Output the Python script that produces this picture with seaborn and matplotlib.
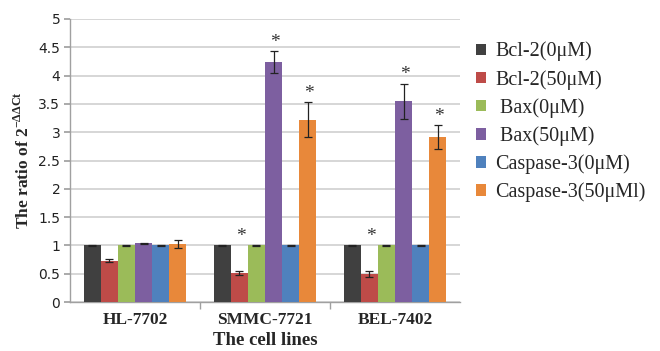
import numpy as np
import pandas as pd
import matplotlib
matplotlib.use("Agg")
import matplotlib.pyplot as plt
import seaborn as sns

cell_lines = ["HL-7702", "SMMC-7721", "BEL-7402"]
series = ["Bcl-2(0μM)", "Bcl-2(50μM)", " Bax(0μM)", " Bax(50μM)", "Caspase-3(0μM)", "Caspase-3(50μMl)"]
bcl2_0 = [1.00, 1.00, 1.00]
bcl2_50 = [0.73, 0.51, 0.50]
bax_0 = [1.00, 1.00, 1.00]
bax_50 = [1.04, 4.24, 3.55]
casp_0 = [1.00, 1.00, 1.00]
casp_50 = [1.02, 3.22, 2.91]
err_bcl2_0 = [0.01, 0.01, 0.01]
err_bcl2_50 = [0.03, 0.04, 0.05]
err_bax_0 = [0.01, 0.01, 0.01]
err_bax_50 = [0.01, 0.19, 0.31]
err_casp_0 = [0.01, 0.01, 0.01]
err_casp_50 = [0.07, 0.31, 0.21]
significant = [
    [False, False, False],
    [False, True, True],
    [False, False, False],
    [False, True, True],
    [False, False, False],
    [False, True, True],
]
colors = ["#404040", "#BE4B48", "#9BBB59", "#7D5FA0", "#4F81BD", "#E8883A"]

values = [bcl2_0, bcl2_50, bax_0, bax_50, casp_0, casp_50]
errors = [err_bcl2_0, err_bcl2_50, err_bax_0, err_bax_50, err_casp_0, err_casp_50]

rows = []
for s, vals in zip(series, values):
    for c, v in zip(cell_lines, vals):
        rows.append({"cell": c, "series": s, "value": v})
df = pd.DataFrame(rows)

sns.set_theme(style="white")
plt.rcParams["font.family"] = ["Liberation Serif", "DejaVu Serif"]
plt.rcParams["mathtext.fontset"] = "custom"
plt.rcParams["mathtext.rm"] = "Liberation Serif"

fig = plt.figure(figsize=(6.6, 3.51), dpi=100)
ax = fig.add_axes([70/660, 1 - 302/351, 390/660, 283/351])

sns.barplot(data=df, x="cell", y="value", hue="series", palette=colors,
            order=cell_lines, hue_order=series, width=0.79, errorbar=None,
            saturation=1, linewidth=0, ax=ax, zorder=3)

bar_containers = list(ax.containers)
for i, cont in enumerate(bar_containers):
    for j, patch in enumerate(cont.patches):
        xc = patch.get_x() + patch.get_width() / 2
        h = patch.get_height()
        ax.errorbar(xc, h, yerr=errors[i][j], color="#222222", capsize=3,
                    elinewidth=0.9, capthick=0.9, zorder=4)
        if significant[i][j]:
            top = max(h + errors[i][j], 1.0)
            ax.text(xc + 0.01, top + 0.01, "*", ha="center", va="bottom",
                    fontsize=14, color="#333333", zorder=5)

ax.set_ylim(0, 5)
ax.set_xlim(-0.5, 2.5)
ax.set_yticks(np.arange(0, 5.01, 0.5))
ax.set_yticklabels(["0", "0.5", "1", "1.5", "2", "2.5", "3", "3.5", "4", "4.5", "5"],
                   family="DejaVu Sans", fontsize=10, color="#222222")
ax.yaxis.grid(True, color="#D0D0D0", linewidth=1.2, zorder=0)
ax.set_axisbelow(True)
for sp in ["top", "right"]:
    ax.spines[sp].set_visible(False)
for sp in ["left", "bottom"]:
    ax.spines[sp].set_color("#A0A0A0")
    ax.spines[sp].set_linewidth(1.0)

ax.set_xticks([0, 1, 2])
ax.set_xticklabels(cell_lines, fontweight="bold", fontsize=12.5)
ax.tick_params(axis="x", length=0, pad=7)
ax.set_xticks([0.5, 1.5], minor=True)
ax.tick_params(axis="x", which="minor", length=5, color="#A0A0A0", direction="out", bottom=True)
ax.tick_params(axis="y", length=4, color="#A0A0A0", direction="out", pad=3, left=True)

ax.set_xlabel("The cell lines", fontweight="bold", fontsize=13.5, labelpad=3)
ax.set_ylabel(r"The ratio of 2$^{\mathregular{-ΔΔCt}}$", fontweight="bold", fontsize=12.5, labelpad=4)

handles, labels = [], []
for cont, lab in zip(bar_containers, series):
    handles.append(cont.patches[0])
    labels.append(lab)
leg = ax.legend(handles, labels, loc="center left", bbox_to_anchor=(1.02, 0.636),
                frameon=False, fontsize=14.5, handlelength=0.5, handleheight=0.5,
                labelspacing=0.42, handletextpad=0.45, borderaxespad=0)

fig.savefig("out.png", dpi=100)
